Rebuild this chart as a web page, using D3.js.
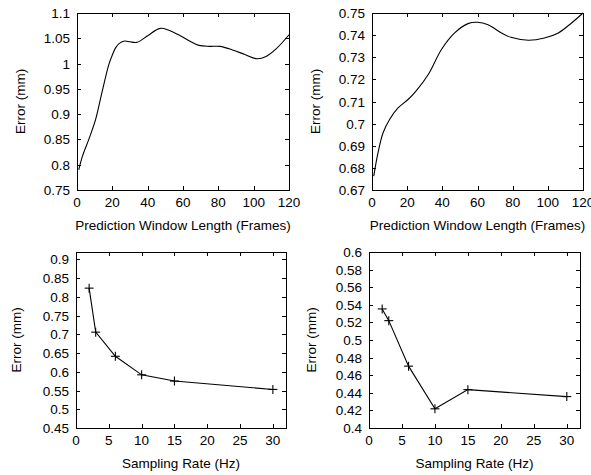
<!DOCTYPE html>
<html>
<head>
<meta charset="utf-8">
<script src="https://cdn.jsdelivr.net/npm/d3@7"></script>
<style>
  html, body { margin: 0; padding: 0; background: #fff; }
  svg { display: block; }
  text { font-family: "Liberation Sans", Arial, Helvetica, sans-serif; font-size: 13.5px; fill: #000; }
</style>
</head>
<body>
<svg id="chart" width="591" height="475"></svg>
<script>
// ---- Data ----
// Panel A: error vs prediction window length (top-left)
const windowA = [1, 3, 7, 10.5, 14, 18, 20, 22, 24, 27, 30, 34, 40, 47, 52, 59, 64, 69, 75, 81, 88, 95, 102, 107, 113, 120];
const errorA  = [0.790, 0.816, 0.853, 0.889, 0.941, 0.998, 1.017, 1.032, 1.040, 1.0445, 1.043, 1.042, 1.055, 1.0696, 1.066, 1.054, 1.044, 1.036, 1.034, 1.034, 1.027, 1.018, 1.0095, 1.014, 1.030, 1.057];

// Panel B: error vs prediction window length (top-right)
const windowB = [1, 3.4, 6.3, 10, 14.8, 20.5, 25, 32, 39.5, 47, 54.6, 60, 66, 73.6, 79, 89, 98, 106, 113.5, 120];
const errorB  = [0.6763, 0.6868, 0.6959, 0.7019, 0.7071, 0.7109, 0.7147, 0.7222, 0.7335, 0.741, 0.7452, 0.7458, 0.7447, 0.741, 0.739, 0.7377, 0.7387, 0.741, 0.7455, 0.750];

// Panel C & D: error vs sampling rate (bottom)
const rates  = [2, 3, 6, 10, 15, 30];
const errorC = [0.8235, 0.706, 0.6415, 0.592, 0.5753, 0.553];
const errorD = [0.5353, 0.522, 0.4703, 0.4218, 0.4436, 0.4357];

// Tick values
const xTicksWindow = [0, 20, 40, 60, 80, 100, 120];
const yTicksA = [0.75, 0.8, 0.85, 0.9, 0.95, 1, 1.05, 1.1];
const yTicksB = [0.67, 0.68, 0.69, 0.7, 0.71, 0.72, 0.73, 0.74, 0.75];
const xTicksRate = [0, 5, 10, 15, 20, 25, 30];
const yTicksC = [0.45, 0.5, 0.55, 0.6, 0.65, 0.7, 0.75, 0.8, 0.85, 0.9];
const yTicksD = [0.4, 0.42, 0.44, 0.46, 0.48, 0.5, 0.52, 0.54, 0.56, 0.58, 0.6];

const xTitleWindow = "Prediction Window Length (Frames)";
const xTitleRate = "Sampling Rate (Hz)";
const yTitle = "Error (mm)";

// ---- Drawing ----
const svg = d3.select("#chart");
const fmt = d => String(+d.toFixed(4));

function panel(opt) {
  const g = svg.append("g");
  const x = d3.scaleLinear().domain(opt.xDomain).range([opt.left, opt.right]);
  const y = d3.scaleLinear().domain(opt.yDomain).range([opt.bottom, opt.top]);
  const T = 4;

  // ticks (inward, mirrored)
  const ax = g.append("g").attr("stroke", "#000").attr("stroke-width", 1);
  opt.xTicks.forEach(t => {
    const px = Math.round(x(t)) + 0.5;
    ax.append("line").attr("x1", px).attr("x2", px).attr("y1", opt.bottom).attr("y2", opt.bottom - T);
    ax.append("line").attr("x1", px).attr("x2", px).attr("y1", opt.top).attr("y2", opt.top + T);
  });
  opt.yTicks.forEach(t => {
    const py = Math.round(y(t)) + 0.5;
    ax.append("line").attr("x1", opt.left).attr("x2", opt.left + T).attr("y1", py).attr("y2", py);
    ax.append("line").attr("x1", opt.right).attr("x2", opt.right - T).attr("y1", py).attr("y2", py);
  });

  // tick labels
  g.append("g").selectAll("text").data(opt.xTicks).join("text")
    .attr("x", d => x(d)).attr("y", opt.bottom + 17)
    .attr("text-anchor", "middle").text(fmt);
  g.append("g").selectAll("text").data(opt.yTicks).join("text")
    .attr("x", opt.left - 7).attr("y", d => y(d) + 5)
    .attr("text-anchor", "end").text(fmt);

  // titles
  g.append("text").attr("x", (opt.left + opt.right) / 2).attr("y", opt.bottom + 40)
    .attr("text-anchor", "middle").text(opt.xTitle);
  g.append("text")
    .attr("transform", `translate(${opt.yTitleX},${(opt.top + opt.bottom) / 2}) rotate(-90)`)
    .attr("text-anchor", "middle").text(yTitle);

  // line
  const pts = opt.xs.map((v, i) => [v, opt.ys[i]]);
  const line = d3.line().x(d => x(d[0])).y(d => y(d[1]))
    .curve(opt.smooth ? d3.curveCatmullRom.alpha(0.5) : d3.curveLinear);
  g.append("path").attr("d", line(pts)).attr("fill", "none")
    .attr("stroke", "#000").attr("stroke-width", 1.1);

  // markers
  if (opt.markers) {
    const s = 4.5;
    const m = g.append("g").attr("stroke", "#000").attr("stroke-width", 1.1);
    pts.forEach(d => {
      const cx = x(d[0]), cy = y(d[1]);
      m.append("line").attr("x1", cx - s).attr("x2", cx + s).attr("y1", cy).attr("y2", cy);
      m.append("line").attr("x1", cx).attr("x2", cx).attr("y1", cy - s).attr("y2", cy + s);
    });
  }

  // border
  g.append("rect").attr("x", opt.left + 0.5).attr("y", opt.top + 0.5)
    .attr("width", opt.right - opt.left).attr("height", opt.bottom - opt.top)
    .attr("fill", "none").attr("stroke", "#000").attr("stroke-width", 1);
}

panel({ left: 77, right: 289, top: 13, bottom: 190, yTitleX: 25,
  xDomain: [0, 120], yDomain: [0.75, 1.1], xTicks: xTicksWindow, yTicks: yTicksA,
  xs: windowA, ys: errorA, smooth: true, markers: false, xTitle: xTitleWindow });

panel({ left: 372, right: 583, top: 13, bottom: 190, yTitleX: 320,
  xDomain: [0, 120], yDomain: [0.67, 0.75], xTicks: xTicksWindow, yTicks: yTicksB,
  xs: windowB, ys: errorB, smooth: true, markers: false, xTitle: xTitleWindow });

panel({ left: 76, right: 286, top: 252, bottom: 428, yTitleX: 21,
  xDomain: [0, 32], yDomain: [0.45, 0.92], xTicks: xTicksRate, yTicks: yTicksC,
  xs: rates, ys: errorC, smooth: false, markers: true, xTitle: xTitleRate });

panel({ left: 369, right: 580, top: 252, bottom: 428, yTitleX: 316,
  xDomain: [0, 32], yDomain: [0.4, 0.6], xTicks: xTicksRate, yTicks: yTicksD,
  xs: rates, ys: errorD, smooth: false, markers: true, xTitle: xTitleRate });
</script>
</body>
</html>
